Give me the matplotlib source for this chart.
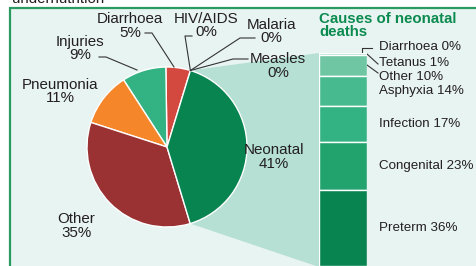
import numpy as np
import matplotlib
matplotlib.use("Agg")
import matplotlib.pyplot as plt
from matplotlib.patches import Polygon, Rectangle

plt.rcParams['font.family'] = ['Liberation Sans', 'DejaVu Sans']

# ---- data ----
causes = ["Neonatal", "Other", "Pneumonia", "Injuries", "Diarrhoea", "HIV/AIDS", "Malaria", "Measles"]
shares = [41, 35, 11, 9, 5, 0, 0, 0]
cause_colors = ["#07844f", "#9a3234", "#f5862a", "#33b383", "#d4493f", "#d4493f", "#d4493f", "#d4493f"]

neo_causes = ["Diarrhoea", "Tetanus", "Other", "Asphyxia", "Infection", "Congenital", "Preterm"]
neo_shares = [0, 1, 10, 14, 17, 23, 36]
neo_colors = ["#8fd4b9", "#8fd4b9", "#6ec6a3", "#48ba8f", "#33b283", "#22a36d", "#07844f"]

W, H = 476, 266
fig = plt.figure(figsize=(W / 100, H / 100), dpi=100)
fig.patch.set_facecolor("white")
ax = fig.add_axes([0, 0, 1, 1])
ax.set_xlim(0, W)
ax.set_ylim(0, H)
ax.axis("off")

def Y(py):
    return H - py

TXT = "#231f20"
BG = "#e8f4f1"
BORDER = "#2a9a62"
LINK = "#b5e0d3"
GREEN = "#0a8a4f"

# background panel and borders
ax.add_patch(Rectangle((9, 0), W - 9, Y(7.5), facecolor=BG, edgecolor="none", zorder=0))
ax.plot([9, W], [Y(7.5), Y(7.5)], color=BORDER, lw=1.6, zorder=5, solid_capstyle="butt")
ax.plot([9.5, 9.5], [0, Y(7.5)], color=BORDER, lw=1.6, zorder=5, solid_capstyle="butt")
ax.text(12, Y(3), "undernutrition", ha="left", va="baseline", fontsize=10.8, color=TXT, zorder=1)

# ---- pie ----
cx, cy, R = 167, Y(147), 80
start = 73
order = [7, 6, 5, 4, 3, 2, 1, 0]   # counter-clockwise from the top-right
vals = [shares[i] for i in order]
cols = [cause_colors[i] for i in order]
ax.pie(vals, colors=cols, startangle=start, counterclock=True, center=(cx, cy), radius=R,
       frame=True, wedgeprops=dict(edgecolor="white", linewidth=1.0, zorder=3))
ax.set_xlim(0, W)
ax.set_ylim(0, H)
ax.set_aspect("auto")
ax.axis("off")

tot = sum(vals)
neo_span = 360 * shares[0] / tot
a1 = np.deg2rad(start)
a2 = np.deg2rad(start - neo_span)
p_top = (cx + R * np.cos(a1), cy + R * np.sin(a1))
p_bot = (cx + R * np.cos(a2), cy + R * np.sin(a2))

# ---- stacked bar ----
bar_x0, bar_w, bar_top = 319, 48, 53
ax2 = fig.add_axes([bar_x0 / W, 0, bar_w / W, (H - bar_top) / H])
ax2.set_xlim(-0.5, 0.5)
tot2 = sum(neo_shares)
ax2.set_ylim(tot2, 0)
ax2.axis("off")
cum = np.cumsum([0] + neo_shares[:-1])
ax2.bar([0] * len(neo_shares), neo_shares, bottom=cum, width=1.0, color=neo_colors,
        edgecolor="white", linewidth=1.0)

pxpp = (H - bar_top) / tot2
def seg_mid(i):
    return bar_top + (cum[i] + neo_shares[i] / 2) * pxpp

# connector
ax.add_patch(Polygon([p_top, (bar_x0, Y(bar_top)), (bar_x0, Y(H + 1)), p_bot, (cx, cy)],
                     closed=True, facecolor=LINK, edgecolor="none", zorder=1))

# title for bar
ax.text(319, Y(12), "Causes of neonatal\ndeaths", ha="left", va="top", fontsize=10.8,
        fontweight="bold", color=GREEN, linespacing=0.92)

# bar labels
fs_b = 9.6
lx = 379
small_y = [47.5, 62.5, 76.5]
for i in range(len(neo_causes)):
    py = small_y[i] if i < 3 else seg_mid(i)
    ax.text(lx, Y(py), f"{neo_causes[i]} {neo_shares[i]}%", ha="left", va="center",
            fontsize=fs_b, color=TXT)
lk = dict(color="#333333", lw=0.8, zorder=4)
ax.plot([372, 361.5, 361.5], [Y(48), Y(48), Y(52)], **lk)
ax.plot([378, 367], [Y(64), Y(54)], **lk)
ax.plot([378, 367], [Y(73), Y(65)], **lk)

# pie labels
fs_p = 10.9
pie_lab_pos = {
    "Neonatal": (274, 157),
    "Other": (76, 226),
    "Pneumonia": (60, 91.5),
    "Injuries": (80, 48.5),
    "Diarrhoea": (130, 26),
    "HIV/AIDS": (206, 25.5),
    "Malaria": (271, 31.5),
    "Measles": (278, 66),
}
for name, v in zip(causes, shares):
    x, py = pie_lab_pos[name]
    ax.text(x, Y(py), f"{name}\n{v}%", ha="center", va="center", fontsize=fs_p,
            color=TXT, linespacing=0.98, zorder=6)

# pie leader lines
px, py = p_top
ax.plot([99, 106, 137], [Y(57), Y(57), Y(70)], **lk)
ax.plot([145, 152, 174], [Y(33), Y(33), Y(67)], **lk)
ax.plot([192, 185, px], [Y(36), Y(36), py], **lk)
ax.plot([255, 240, px], [Y(38), Y(38), py], **lk)
ax.plot([248, 233, px], [Y(59), Y(59), py], **lk)

fig.savefig("out.png", dpi=100, facecolor="white")
